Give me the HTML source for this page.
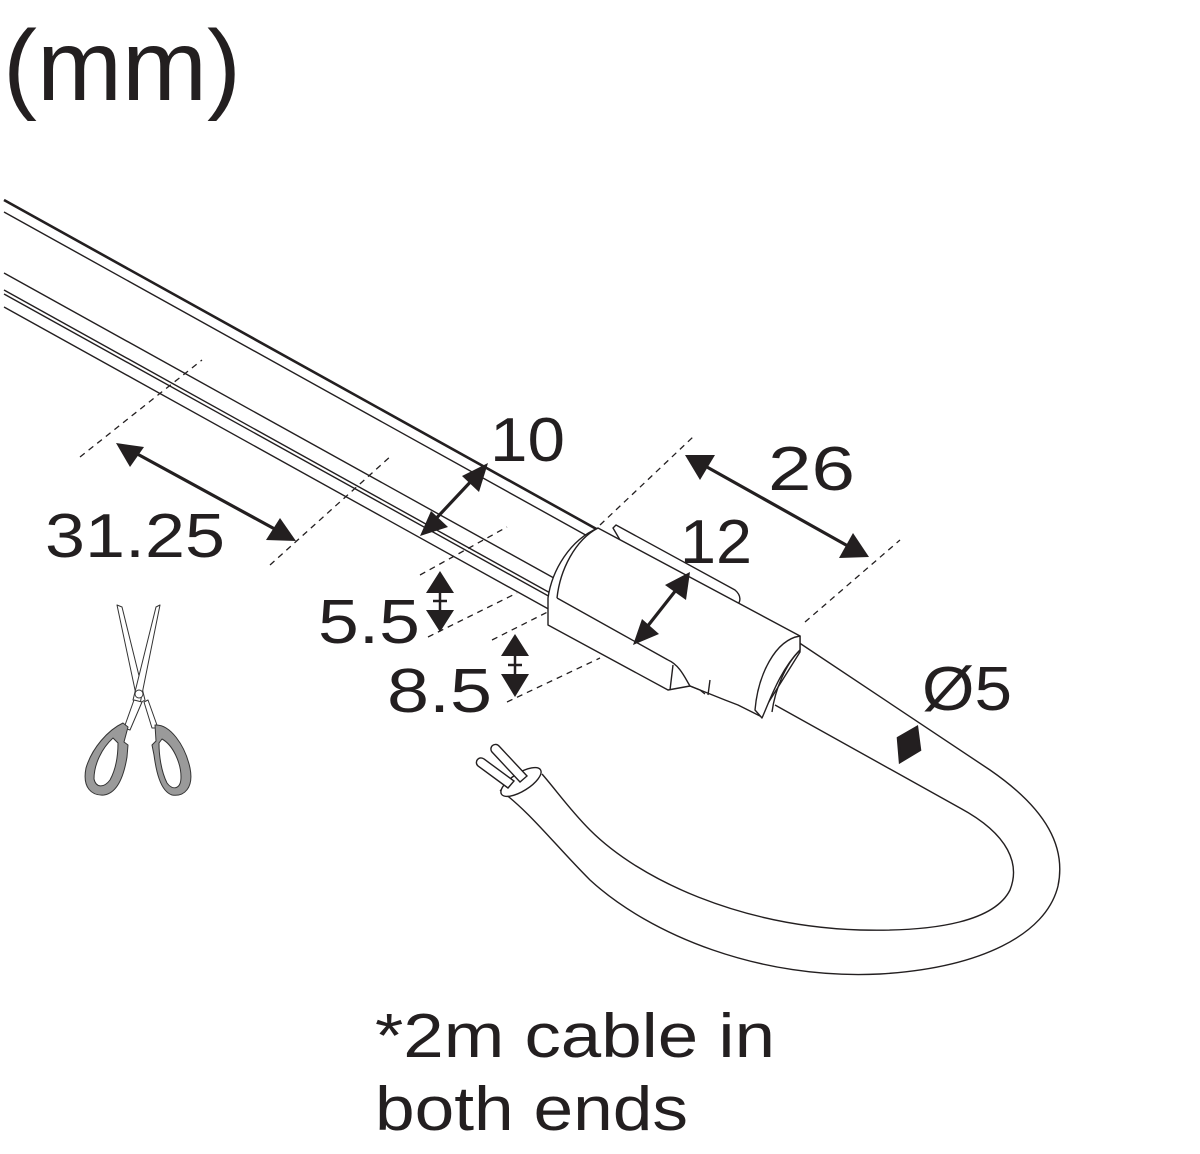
<!DOCTYPE html>
<html><head><meta charset="utf-8"><style>
html,body{margin:0;padding:0;background:#fff;}
svg{display:block;}
text{font-family:"Liberation Sans",sans-serif;fill:#231f20;}
</style></head><body>
<svg width="1200" height="1154" viewBox="0 0 1200 1154" xmlns="http://www.w3.org/2000/svg">
<text x="3" y="100" font-size="100" textLength="238" lengthAdjust="spacingAndGlyphs">(mm)</text>

<!-- strip lines -->
<g stroke="#231f20" fill="none">
<line x1="4" y1="200" x2="600" y2="531" stroke-width="2.6"/>
<line x1="4" y1="212" x2="600" y2="543" stroke-width="1.4"/>
<line x1="4" y1="273" x2="680" y2="648" stroke-width="1.4"/>
<line x1="4" y1="290" x2="680" y2="665" stroke-width="1.4"/>
<line x1="4" y1="294" x2="680" y2="669" stroke-width="1.4"/>
<line x1="4" y1="307" x2="680" y2="682" stroke-width="1.4"/>
</g>

<!-- dashed extension lines -->
<g stroke="#231f20" stroke-width="1.3" stroke-dasharray="6,5" fill="none">
<line x1="80" y1="457" x2="202" y2="360"/>
<line x1="270" y1="565" x2="392" y2="455"/>
<line x1="600" y1="525" x2="693" y2="437"/>
<line x1="805" y1="622" x2="900" y2="540"/>
<line x1="420" y1="575" x2="507" y2="527"/>
<line x1="428" y1="637" x2="517" y2="593"/>
<line x1="492" y1="640" x2="617" y2="577"/>
<line x1="507" y1="702" x2="600" y2="658"/>
</g>

<!-- cable -->
<g stroke="#231f20" stroke-width="1.4" fill="#fff">
<path d="M798,642 L990,770 C1048,810 1066,848 1058,886 C1046,935 980,968 880,974 C760,980 650,935 590,880 C555,845 530,812 500,790" fill="none"/>
<path d="M775,705 L960,808 C1010,835 1020,865 1010,890 C995,920 940,932 860,930 C740,926 640,880 590,830 C570,810 556,790 542,774" fill="none"/>
<ellipse cx="521" cy="782" rx="23" ry="9" transform="rotate(-32 521 782)"/>
<path d="M508,788 L478,766 A4.5,4.5 0 0 1 484,759 L514,781 Z"/>
<path d="M520,782 L492,752 A4.5,4.5 0 0 1 499,746 L527,776 Z"/>
</g>

<!-- cap -->
<g stroke="#231f20" stroke-width="1.4" fill="#fff" stroke-linejoin="round">
<path d="M613,528 L616,525 L735,590 C742,596 740,602 738,604 L620,540 Z"/>
<path d="M598,528 L800,636 L800,652 L760,716 L738,705 L725,700 L690,686 L668,690 L548,625 L548,598 C552,570 570,540 598,528 Z"/>
<path d="M598,528 C575,540 560,570 557,598" fill="none"/>
<path d="M557,598 L668,660" fill="none"/>
<path d="M668,660 C680,665 686,680 690,686" fill="none"/>
<path d="M673,665 L670,690 M690,686 L700,690 L705,694" fill="none"/>
<path d="M708,695 L710,680" fill="none"/>
<path d="M800,636 C775,640 758,675 755,710 L762,718 C770,700 780,670 800,650 Z"/>
<path d="M800,650 C785,665 775,690 772,712" fill="none"/>
</g>

<!-- dimension arrows -->
<g stroke="#231f20" stroke-width="3.2" fill="#231f20">
<line x1="130" y1="450" x2="282" y2="533"/>
<polygon points="116,443 144,447 130,467" stroke="none"/>
<polygon points="296,541 266,540 280,518" stroke="none"/>
<line x1="475" y1="477" x2="430" y2="525"/>
<polygon points="488,463 479,492 462,476" stroke="none"/>
<polygon points="420,536 448,527 431,511" stroke="none"/>
<line x1="698" y1="462" x2="855" y2="550"/>
<polygon points="685,455 715,455 700,480" stroke="none"/>
<polygon points="869,557 839,558 853,533" stroke="none"/>
<line x1="680" y1="585" x2="643" y2="632"/>
<polygon points="690,572 686,600 665,585" stroke="none"/>
<polygon points="633,645 659,634 642,619" stroke="none"/>
</g>
<g stroke="#231f20" stroke-width="2.5" fill="#231f20">
<line x1="440" y1="585" x2="440" y2="618"/>
<polygon points="440,571 426,593 454,593" stroke="none"/>
<polygon points="440,632 426,610 454,610" stroke="none"/>
<line x1="433" y1="601" x2="447" y2="601"/>
<line x1="515" y1="648" x2="515" y2="682"/>
<polygon points="515,634 501,656 529,656" stroke="none"/>
<polygon points="515,697 501,674 529,674" stroke="none"/>
<line x1="508" y1="665" x2="522" y2="665"/>
<polygon points="898,738 917,727 920,750 900,762"/>
</g>

<!-- scissors -->
<g stroke="#333" stroke-width="1" stroke-linejoin="round">
<path d="M117,605 L122,607 L145,700 L138,704 Z" fill="#fff"/>
<path d="M160,605 L156,607 L133,700 L140,704 Z" fill="#fff"/>
<circle cx="139" cy="694" r="4" fill="#fff"/>
<path d="M134,700 L124,728 L130,730 L142,702 Z" fill="#fff"/>
<path d="M144,702 L152,728 L158,728 L148,700 Z" fill="#fff"/>
<path d="M123,723 C108,730 92,748 86,768 C82,788 92,796 104,795 C118,793 124,775 127,757 L128,745 L124,742 L128,727 Z" fill="#9a9a9a"/>
<path d="M113,738 C102,748 94,764 94,779 C96,788 104,788 110,780 C116,769 118,755 118,743 Z" fill="#fff"/>
<path d="M155,725 C170,724 185,745 190,768 C194,788 184,797 172,795 C160,791 156,770 154,755 L152,745 L156,741 Z" fill="#9a9a9a"/>
<path d="M162,739 C173,745 181,763 181,777 C181,789 173,791 167,783 C161,771 159,755 159,743 Z" fill="#fff"/>
</g>

<!-- labels -->
<g font-size="62">
<text x="45" y="557" textLength="180" lengthAdjust="spacingAndGlyphs">31.25</text>
<text x="490" y="461" textLength="75" lengthAdjust="spacingAndGlyphs">10</text>
<text x="768" y="490" textLength="87" lengthAdjust="spacingAndGlyphs">26</text>
<text x="680" y="563" textLength="72" lengthAdjust="spacingAndGlyphs">12</text>
<text x="318" y="643" textLength="102" lengthAdjust="spacingAndGlyphs">5.5</text>
<text x="387" y="712" textLength="105" lengthAdjust="spacingAndGlyphs">8.5</text>
<text x="922" y="710" textLength="90" lengthAdjust="spacingAndGlyphs">Ø5</text>
<text x="375" y="1057" textLength="400" lengthAdjust="spacingAndGlyphs">*2m cable in</text>
<text x="375" y="1130" textLength="313" lengthAdjust="spacingAndGlyphs">both ends</text>
</g>
</svg>
</body></html>
